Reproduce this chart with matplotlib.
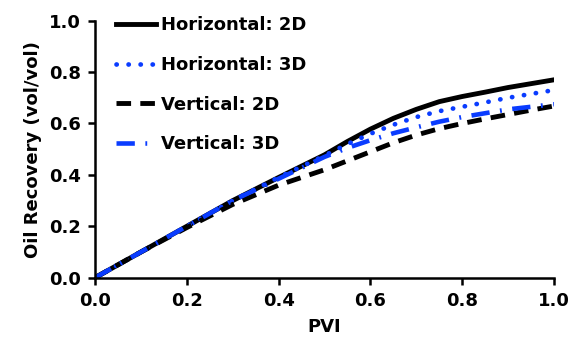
import matplotlib
matplotlib.use("Agg")
import matplotlib.pyplot as plt

pvi = [0.0, 0.1, 0.2, 0.3, 0.4, 0.5, 0.55, 0.6, 0.65, 0.7, 0.75, 0.8, 0.85, 0.9, 0.95, 1.0]
horiz_2d = [0.0, 0.10, 0.20, 0.30, 0.39, 0.478, 0.53, 0.578, 0.62, 0.655, 0.685, 0.705, 0.722, 0.74, 0.755, 0.77]
horiz_3d = [0.0, 0.10, 0.20, 0.30, 0.39, 0.475, 0.52, 0.56, 0.595, 0.625, 0.648, 0.665, 0.682, 0.70, 0.715, 0.73]
vert_2d = [0.0, 0.10, 0.195, 0.285, 0.36, 0.42, 0.455, 0.49, 0.525, 0.555, 0.58, 0.60, 0.618, 0.635, 0.652, 0.668]
vert_3d = [0.0, 0.10, 0.20, 0.30, 0.385, 0.47, 0.505, 0.535, 0.562, 0.585, 0.607, 0.625, 0.64, 0.655, 0.665, 0.675]

labels = ["Horizontal: 2D", "Horizontal: 3D", "Vertical: 2D", "Vertical: 3D"]

plt.rcParams['font.family'] = ['DejaVu Sans']
plt.rcParams['font.weight'] = 'bold'

fs = 13
fig = plt.figure(figsize=(5.81, 3.49), dpi=100)
ax = fig.add_axes([0.1635, 0.2043, 0.79, 0.7364])

blue = '#0a3cff'
ax.plot(pvi, horiz_2d, color='black', lw=3.5, ls='-', label=labels[0])
ax.plot(pvi, horiz_3d, color=blue, lw=3.4, ls=(0, (0.05, 2.5)), dash_capstyle='round', label=labels[1])
ax.plot(pvi, vert_2d, color='black', lw=3.5, ls=(0, (3.0, 1.9)), label=labels[2])
ax.plot(pvi, vert_3d, color=blue, lw=3.3, ls=(0, (4.0, 2.3, 0.4, 2.3)), label=labels[3])

ax.set_xlim(0, 1)
ax.set_ylim(0, 1)
ax.set_xticks([0, 0.2, 0.4, 0.6, 0.8, 1.0])
ax.set_yticks([0, 0.2, 0.4, 0.6, 0.8, 1.0])
ax.set_xticklabels([f"{v:.1f}" for v in ax.get_xticks()])
ax.set_yticklabels([f"{v:.1f}" for v in ax.get_yticks()])
for s in ['top', 'right']:
    ax.spines[s].set_visible(False)
for s in ['left', 'bottom']:
    ax.spines[s].set_linewidth(1.8)
ax.tick_params(direction='out', length=5, width=1.8, labelsize=fs, pad=5)
ax.set_xlabel("PVI", fontsize=fs, fontweight='bold', labelpad=6)
ax.set_ylabel("Oil Recovery (vol/vol)", fontsize=fs, fontweight='bold', labelpad=5)

leg = ax.legend(loc='upper left', bbox_to_anchor=(0.031, 1.045), frameon=False,
                fontsize=fs, handlelength=2.2, handletextpad=0.25,
                labelspacing=1.2, borderaxespad=0)

fig.savefig("out.png", dpi=100)
